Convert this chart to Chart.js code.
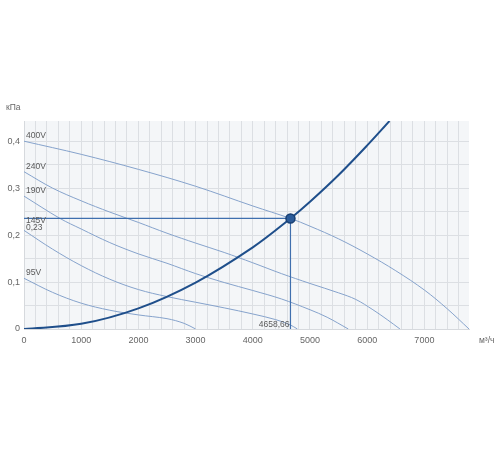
<!DOCTYPE html>
<html>
<head>
<meta charset="utf-8">
<script src="https://cdn.jsdelivr.net/npm/chart.js@4"></script>
<style>
html,body{margin:0;padding:0;background:#fff;}
canvas{display:block;}
</style>
</head>
<body>
<canvas id="c" width="500" height="450"></canvas>
<script>
// ---- data ----
const flow400 = [0,1000,2000,3000,4000,4658.66,5000,5500,6000,6500,7000,7400,7780];
const p400    = [0.400,0.372,0.340,0.304,0.262,0.2355,0.219,0.192,0.160,0.124,0.083,0.043,0];
const flow240 = [0,500,1000,1500,2000,2500,3000,3500,4000,4500,5000,5500,5800,6100,6350,6573];
const p240    = [0.335,0.300,0.273,0.249,0.227,0.204,0.183,0.163,0.141,0.118,0.097,0.077,0.063,0.041,0.020,0];
const flow190 = [0,629,1000,1500,2000,2500,3000,3500,4000,4500,5000,5300,5670];
const p190    = [0.283,0.2355,0.213,0.184,0.160,0.140,0.118,0.099,0.082,0.064,0.041,0.025,0];
const flow145 = [0,500,1000,1500,2000,2500,3000,3500,4000,4400,4650,4780];
const p145    = [0.210,0.170,0.135,0.106,0.084,0.069,0.057,0.045,0.032,0.020,0.009,0];
const flow95  = [0,500,1000,1500,2000,2500,2800,3000];
const p95     = [0.108,0.078,0.055,0.040,0.030,0.022,0.012,0];
const flowSys = [0,1000,2000,3000,4000,4658.66,5000,5500,6000,6390];
const pSys    = [0,0.011,0.044,0.099,0.174,0.2355,0.271,0.328,0.391,0.443];
const curveNames = ['400V','240V','190V','145V','95V'];
const opFlow = 4658.66;
const opPress = 0.2355;
const opFlowLabel = '4658,66';
const opPressLabel = '0,23';
const xMax = 7780, yMax = 0.443;
const xStep = 200, yStep = 0.05;
const xLabelStep = 1000, yLabelStep = 0.1;
const yTitle = 'кПа', xTitle = 'м³/ч';

const pts = (xs, ys) => xs.map((x, i) => ({x, y: ys[i]}));
const fanFlows = [flow400, flow240, flow190, flow145, flow95];
const fanPress = [p400, p240, p190, p145, p95];

const FAN = '#86a3cc', SYS = '#1f4f8b', OP = '#3f6fae';
const FONT = 'Liberation Sans, Arial, sans-serif';

const fanSets = fanFlows.map((f, i) => ({
  label: curveNames[i], data: pts(f, fanPress[i]),
  borderColor: FAN, borderWidth: 1, pointRadius: 0, tension: 0.35, order: 3
}));

const isMultiple = (v, step) => Math.abs(v / step - Math.round(v / step)) < 1e-6;
const stepTicks = (max, step) => {
  const t = [];
  for (let i = 0; i * step <= max + 1e-9; i++) t.push({value: +(i * step).toFixed(6)});
  return t;
};

const labelsPlugin = {
  id: 'labelsPlugin',
  beforeDraw(chart) {
    const {ctx, chartArea: a} = chart;
    ctx.save();
    ctx.fillStyle = '#f4f6f8';
    ctx.fillRect(a.left, a.top, a.right - a.left, a.bottom - a.top);
    ctx.restore();
  },
  afterDatasetsDraw(chart) {
    const {ctx} = chart;
    const xs = chart.scales.x, ys = chart.scales.y;
    ctx.save();
    ctx.fillStyle = '#5a5a5a';
    ctx.font = '8.5px ' + FONT;
    const opPx = ys.getPixelForValue(opPress);
    const opLabelBase = opPx + 11.5;
    ctx.textAlign = 'left';
    ctx.textBaseline = 'alphabetic';
    curveNames.forEach((n, i) => {
      let b = ys.getPixelForValue(fanPress[i][0]) - 3;
      if (Math.abs(b - opLabelBase) < 9) b = opLabelBase - 7;
      ctx.fillText(n, xs.getPixelForValue(0) + 2, b);
    });
    ctx.fillText(opPressLabel, xs.getPixelForValue(0) + 2, opLabelBase);
    ctx.textAlign = 'right';
    ctx.fillText(opFlowLabel, xs.getPixelForValue(opFlow) - 1, ys.getPixelForValue(0) - 2);
    // axis titles
    ctx.fillStyle = '#666';
    ctx.textAlign = 'left';
    ctx.textBaseline = 'middle';
    ctx.fillText(yTitle, 6, ys.getPixelForValue(yMax) - 13);
    ctx.fillText(xTitle, xs.getPixelForValue(xMax) + 10, ys.getPixelForValue(0) + 12);
    ctx.restore();
  }
};

new Chart(document.getElementById('c'), {
  type: 'line',
  data: {
    datasets: [
      ...fanSets,
      {label: 'sys', data: pts(flowSys, pSys), borderColor: SYS, borderWidth: 2,
       pointRadius: 0, tension: 0.35, order: 2},
      {label: 'op', data: [{x: 0, y: opPress}, {x: opFlow, y: opPress}, {x: opFlow, y: 0}],
       borderColor: OP, borderWidth: 1.2, pointRadius: 0, tension: 0, order: 1},
      {label: 'pt', data: [{x: opFlow, y: opPress}], showLine: false,
       pointRadius: 4.5, pointBackgroundColor: '#2c5c9a', pointBorderColor: '#173f73',
       pointBorderWidth: 1.5, order: 0}
    ]
  },
  options: {
    responsive: false, animation: false,
    devicePixelRatio: 1,
    layout: {padding: {left: 0, top: 121, right: 31, bottom: 0}},
    plugins: {legend: {display: false}, tooltip: {enabled: false}},
    scales: {
      x: {
        type: 'linear', min: 0, max: xMax,
        border: {color: '#d6d9dd'},
        grid: {color: '#dcdfe3', drawTicks: false, lineWidth: 1},
        afterBuildTicks: s => { s.ticks = stepTicks(xMax, xStep); },
        ticks: {
          autoSkip: false, maxRotation: 0, padding: 6,
          color: '#666', font: {family: FONT, size: 9},
          callback: v => isMultiple(v, xLabelStep) ? String(Math.round(v)) : ''
        },
        afterFit: s => { s.height = 121; }
      },
      y: {
        type: 'linear', min: 0, max: yMax,
        border: {color: '#d6d9dd'},
        grid: {color: '#dcdfe3', drawTicks: false, lineWidth: 1},
        afterBuildTicks: s => { s.ticks = stepTicks(yMax, yStep); },
        ticks: {
          autoSkip: false, padding: 4,
          color: '#666', font: {family: FONT, size: 9},
          callback: v => {
            if (!isMultiple(v, yLabelStep)) return '';
            return v === 0 ? '0' : v.toFixed(1).replace('.', ',');
          }
        },
        afterFit: s => { s.width = 24; }
      }
    }
  },
  plugins: [labelsPlugin]
});
</script>
</body>
</html>
